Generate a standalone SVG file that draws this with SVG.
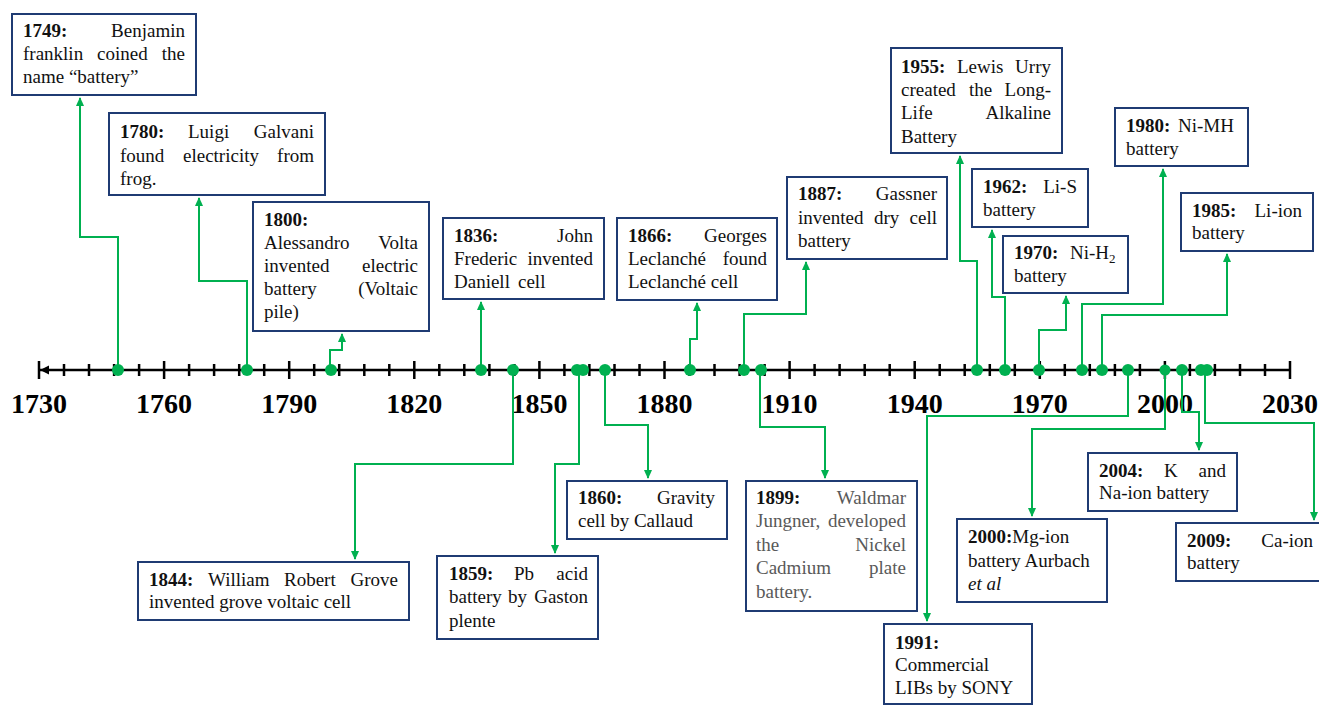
<svg xmlns="http://www.w3.org/2000/svg" width="1319" height="705" viewBox="0 0 1319 705">
<style>
.box{fill:#fff;stroke:#1f3b73;stroke-width:2}
.t{font-family:"Liberation Serif","Times New Roman",serif;font-size:19px;fill:#111}
.b{font-weight:bold}
.e{text-anchor:end}
.g{fill:#595959}
.conn{fill:none;stroke:#00b050;stroke-width:2;marker-end:url(#ah)}
.dot{fill:#00b050}
.yr{font-family:"Liberation Serif","Times New Roman",serif;font-size:28px;font-weight:bold;text-anchor:middle;fill:#000}
.ax{stroke:#000;stroke-width:2.5;fill:none}
</style>
<defs>
<marker id="ah" viewBox="0 0 10 10" refX="9" refY="5" markerWidth="9" markerHeight="9" markerUnits="userSpaceOnUse" orient="auto"><path d="M0,0.5 L10,5 L0,9.5 z" fill="#00b050"/></marker>
</defs>
<rect width="1319" height="705" fill="#fff"/>

<g id="axis">
<path class="ax" d="M39,370H1290"/>
<path class="ax" d="M39,361V379M164.1,361V379M289.2,361V379M414.3,361V379M539.4,361V379M664.5,361V379M789.6,361V379M914.7,361V379M1039.8,361V379M1164.9,361V379M1290,361V379"/>
<path class="ax" d="M64,364V376M89,364V376M114.1,364V376M139.1,364V376M189.1,364V376M214.1,364V376M239.2,364V376M264.2,364V376M314.2,364V376M339.2,364V376M364.3,364V376M389.3,364V376M439.3,364V376M464.3,364V376M489.4,364V376M514.4,364V376M564.4,364V376M589.4,364V376M614.5,364V376M639.5,364V376M689.5,364V376M714.5,364V376M739.6,364V376M764.6,364V376M814.6,364V376M839.6,364V376M864.7,364V376M889.7,364V376M939.7,364V376M964.7,364V376M989.8,364V376M1014.8,364V376M1064.8,364V376M1089.8,364V376M1114.9,364V376M1139.9,364V376M1189.9,364V376M1214.9,364V376M1240,364V376M1265,364V376"/>
<path d="M40,370 L49,365.5 L49,374.5 z" fill="#000"/>
<text class="yr" x="39" y="413">1730</text>
<text class="yr" x="164.1" y="413">1760</text>
<text class="yr" x="289.2" y="413">1790</text>
<text class="yr" x="414.3" y="413">1820</text>
<text class="yr" x="539.4" y="413">1850</text>
<text class="yr" x="664.5" y="413">1880</text>
<text class="yr" x="789.6" y="413">1910</text>
<text class="yr" x="914.7" y="413">1940</text>
<text class="yr" x="1039.8" y="413">1970</text>
<text class="yr" x="1164.9" y="413">2000</text>
<text class="yr" x="1290" y="413">2030</text>
</g>

<g id="connectors">
<path class="conn" d="M118,370V237H80V98"/>
<path class="conn" d="M247,370V281H199V198"/>
<path class="conn" d="M330,370V350H342V334"/>
<path class="conn" d="M481,370V302"/>
<path class="conn" d="M513,370V464H355V559"/>
<path class="conn" d="M579,370V464H555V553"/>
<path class="conn" d="M605,370V425H648V478"/>
<path class="conn" d="M690,370V339H697V303"/>
<path class="conn" d="M744,370V314H806V262"/>
<path class="conn" d="M760,370V427H825V478"/>
<path class="conn" d="M977,370V261H960V156"/>
<path class="conn" d="M1005,370V297H992V230"/>
<path class="conn" d="M1039,370V330H1066V296"/>
<path class="conn" d="M1082,370V304H1163V169"/>
<path class="conn" d="M1102,370V315H1227V254"/>
<path class="conn" d="M1128,370V416H927V621"/>
<path class="conn" d="M1165,370V429H1032V516"/>
<path class="conn" d="M1182,370V412H1199V450"/>
<path class="conn" d="M1205,370V423H1314V520"/>
</g>

<g id="dots">
<circle class="dot" cx="118" cy="370" r="6"/>
<circle class="dot" cx="247" cy="370" r="6"/>
<circle class="dot" cx="331" cy="370" r="6"/>
<circle class="dot" cx="481" cy="370" r="6"/>
<circle class="dot" cx="513" cy="370" r="6"/>
<circle class="dot" cx="577" cy="370" r="6"/>
<circle class="dot" cx="583" cy="370" r="6"/>
<circle class="dot" cx="605" cy="370" r="6"/>
<circle class="dot" cx="690" cy="370" r="6"/>
<circle class="dot" cx="744" cy="370" r="6"/>
<circle class="dot" cx="761" cy="370" r="6"/>
<circle class="dot" cx="977" cy="370" r="6"/>
<circle class="dot" cx="1005" cy="370" r="6"/>
<circle class="dot" cx="1039" cy="370" r="6"/>
<circle class="dot" cx="1082" cy="370" r="6"/>
<circle class="dot" cx="1102" cy="370" r="6"/>
<circle class="dot" cx="1128" cy="370" r="6"/>
<circle class="dot" cx="1165" cy="370" r="5.5"/>
<circle class="dot" cx="1182" cy="370" r="6"/>
<circle class="dot" cx="1201" cy="370" r="6"/>
<circle class="dot" cx="1207" cy="370" r="6"/>
</g>

<g id="n1749">
<rect class="box" x="12" y="14" width="184" height="81"/>
<text class="t"><tspan x="23" y="37" class="b">1749:</tspan><tspan x="185" y="37" class="e">Benjamin</tspan><tspan x="23" y="60">franklin</tspan><tspan x="97" y="60">coined</tspan><tspan x="185" y="60" class="e">the</tspan><tspan x="23" y="83">name “battery”</tspan></text>
</g>

<g id="n1780">
<rect class="box" x="109" y="113" width="216" height="82"/>
<text class="t"><tspan x="120" y="138" class="b">1780:</tspan><tspan x="188" y="138">Luigi</tspan><tspan x="314" y="138" class="e">Galvani</tspan><tspan x="120" y="162">found</tspan><tspan x="183" y="162">electricity</tspan><tspan x="314" y="162" class="e">from</tspan><tspan x="120" y="185">frog.</tspan></text>
</g>

<g id="n1800">
<rect class="box" x="253" y="202" width="176" height="129"/>
<text class="t"><tspan x="264" y="226" class="b">1800:</tspan><tspan x="264" y="249">Alessandro</tspan><tspan x="418" y="249" class="e">Volta</tspan><tspan x="264" y="272">invented</tspan><tspan x="418" y="272" class="e">electric</tspan><tspan x="264" y="295">battery</tspan><tspan x="418" y="295" class="e">(Voltaic</tspan><tspan x="264" y="318">pile)</tspan></text>
</g>

<g id="n1836">
<rect class="box" x="443" y="218" width="161" height="81"/>
<text class="t"><tspan x="454" y="242" class="b">1836:</tspan><tspan x="593" y="242" class="e">John</tspan><tspan x="454" y="265">Frederic</tspan><tspan x="593" y="265" class="e">invented</tspan><tspan x="454" y="288">Daniell</tspan><tspan x="518" y="288">cell</tspan></text>
</g>

<g id="n1866">
<rect class="box" x="617" y="218" width="160" height="82"/>
<text class="t"><tspan x="628" y="242" class="b">1866:</tspan><tspan x="767" y="242" class="e">Georges</tspan><tspan x="628" y="265">Leclanché</tspan><tspan x="767" y="265" class="e">found</tspan><tspan x="628" y="288">Leclanché cell</tspan></text>
</g>

<g id="n1887">
<rect class="box" x="787" y="177" width="160" height="82"/>
<text class="t"><tspan x="798" y="200" class="b">1887:</tspan><tspan x="937" y="200" class="e">Gassner</tspan><tspan x="798" y="224">invented</tspan><tspan x="874" y="224">dry</tspan><tspan x="937" y="224" class="e">cell</tspan><tspan x="798" y="247">battery</tspan></text>
</g>

<g id="n1955">
<rect class="box" x="891" y="48" width="171" height="105"/>
<text class="t"><tspan x="901" y="73" class="b">1955:</tspan><tspan x="957" y="73">Lewis</tspan><tspan x="1051" y="73" class="e">Urry</tspan><tspan x="901" y="96">created</tspan><tspan x="969" y="96">the</tspan><tspan x="1051" y="96" class="e">Long-</tspan><tspan x="901" y="119">Life</tspan><tspan x="1051" y="119" class="e">Alkaline</tspan><tspan x="901" y="143">Battery</tspan></text>
</g>

<g id="n1962">
<rect class="box" x="972" y="169" width="116" height="58"/>
<text class="t"><tspan x="983" y="193" class="b">1962:</tspan><tspan x="1077" y="193" class="e">Li-S</tspan><tspan x="983" y="216">battery</tspan></text>
</g>

<g id="n1970">
<rect class="box" x="1003" y="236" width="125" height="57"/>
<text class="t"><tspan x="1014" y="259" class="b">1970:</tspan><tspan x="1070" y="259">Ni-H</tspan><tspan font-size="13" dy="4">2</tspan><tspan x="1014" y="282">battery</tspan></text>
</g>

<g id="n1980">
<rect class="box" x="1115" y="108" width="133" height="58"/>
<text class="t"><tspan x="1126" y="132" class="b">1980:</tspan><tspan x="1178" y="132">Ni-MH</tspan><tspan x="1126" y="155">battery</tspan></text>
</g>

<g id="n1985">
<rect class="box" x="1181" y="193" width="132" height="58"/>
<text class="t"><tspan x="1192" y="217" class="b">1985:</tspan><tspan x="1302" y="217" class="e">Li-ion</tspan><tspan x="1192" y="239">battery</tspan></text>
</g>

<g id="n1844">
<rect class="box" x="138" y="562" width="271" height="58"/>
<text class="t"><tspan x="149" y="586" class="b">1844:</tspan><tspan x="208" y="586">William</tspan><tspan x="284" y="586">Robert</tspan><tspan x="398" y="586" class="e">Grove</tspan><tspan x="149" y="608">invented grove voltaic cell</tspan></text>
</g>

<g id="n1859">
<rect class="box" x="437" y="556" width="161" height="83"/>
<text class="t"><tspan x="449" y="580" class="b">1859:</tspan><tspan x="514" y="580">Pb</tspan><tspan x="588" y="580" class="e">acid</tspan><tspan x="449" y="603">battery</tspan><tspan x="508" y="603">by</tspan><tspan x="588" y="603" class="e">Gaston</tspan><tspan x="449" y="627">plente</tspan></text>
</g>

<g id="n1860">
<rect class="box" x="567" y="481" width="160" height="58"/>
<text class="t"><tspan x="578" y="504" class="b">1860:</tspan><tspan x="715" y="504" class="e">Gravity</tspan><tspan x="578" y="527">cell by Callaud</tspan></text>
</g>

<g id="n1899">
<rect class="box" x="746" y="481" width="171" height="130"/>
<text class="t"><tspan x="756" y="504" class="b">1899:</tspan><tspan x="906" y="504" class="e g">Waldmar</tspan><tspan x="756" y="527" class="g">Jungner,</tspan><tspan x="906" y="527" class="e g">developed</tspan><tspan x="756" y="551" class="g">the</tspan><tspan x="906" y="551" class="e g">Nickel</tspan><tspan x="756" y="574" class="g">Cadmium</tspan><tspan x="906" y="574" class="e g">plate</tspan><tspan x="756" y="598" class="g">battery.</tspan></text>
</g>

<g id="n1991">
<rect class="box" x="884" y="624" width="148" height="80"/>
<text class="t"><tspan x="895" y="649" class="b">1991:</tspan><tspan x="895" y="671">Commercial</tspan><tspan x="895" y="694">LIBs by SONY</tspan></text>
</g>

<g id="n2000">
<rect class="box" x="957" y="519" width="150" height="83"/>
<text class="t"><tspan x="968" y="543" class="b">2000:</tspan><tspan>Mg-ion</tspan><tspan x="968" y="567">battery Aurbach</tspan><tspan x="968" y="590" font-style="italic">et al</tspan></text>
</g>

<g id="n2004">
<rect class="box" x="1088" y="453" width="149" height="58"/>
<text class="t"><tspan x="1099" y="477" class="b">2004:</tspan><tspan x="1164" y="477">K</tspan><tspan x="1226" y="477" class="e">and</tspan><tspan x="1099" y="499">Na-ion battery</tspan></text>
</g>

<g id="n2009">
<rect class="box" x="1176" y="523" width="150" height="58"/>
<text class="t"><tspan x="1187" y="547" class="b">2009:</tspan><tspan x="1313" y="547" class="e">Ca-ion</tspan><tspan x="1187" y="569">battery</tspan></text>
</g>
</svg>
